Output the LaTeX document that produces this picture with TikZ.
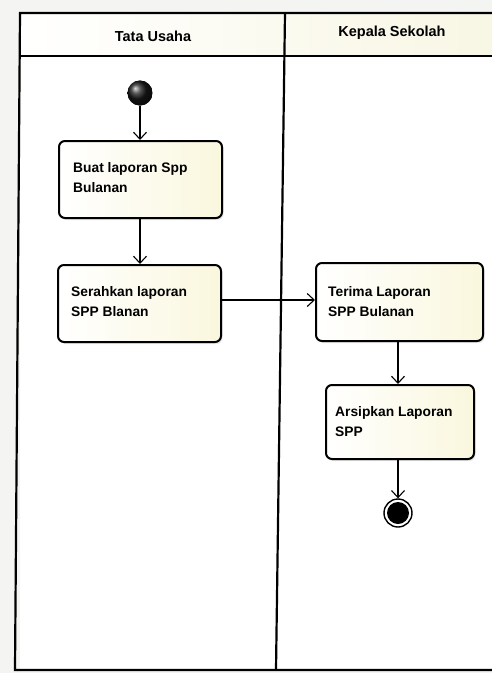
\documentclass[tikz,border=0pt]{standalone}
\usepackage{fontspec}
\setmainfont{Liberation Sans}
\usetikzlibrary{arrows.meta,shadows,positioning}
\definecolor{paper}{RGB}{244,244,242}
\definecolor{actfill}{RGB}{250,247,222}
\definecolor{headfill}{RGB}{248,246,228}
\begin{document}
\begin{tikzpicture}[x=1pt,y=-1pt,
  lane/.style={line width=2.2pt,draw=black},
  activity/.style={draw=black,line width=2pt,rounded corners=6pt,
    left color=white,right color=actfill,
    drop shadow={opacity=0.18,shadow xshift=1.5pt,shadow yshift=-2pt},
    inner sep=0pt,anchor=north west},
  acttext/.style={anchor=north west,align=left,inner sep=0pt,
    font=\bfseries\fontsize{13.8}{20}\selectfont},
  flow/.style={draw=black,line width=1.1pt,-{Straight Barb[length=7pt,width=13pt,line width=1.1pt]}},
  lanehead/.style={font=\bfseries\fontsize{14.5}{16}\selectfont}]
  % page
  \useasboundingbox (0,0) rectangle (492,673);
  \fill[paper] (0,0) rectangle (492,673);
  % swimlane frame
  \fill[left color=white,right color=headfill] (20,13) rectangle (492,56);
  \fill[white] (20,56) rectangle (492,670);
  \draw[lane] (492,13) -- (20,13) -- (15,670) -- (492,670);
  \draw[lane] (20,56) -- (492,56);
  \draw[lane] (285,13) -- (276,670);
  \node[lanehead] (h1) at (153,36) {Tata Usaha};
  \node[lanehead] (h2) at (392,33) {Kepala Sekolah};
  % start
  \node[circle,fill=black,inner sep=0pt,minimum size=25pt,
        shading=ball,ball color=black!90] (start) at (140,93) {};
  % activities
  \node[activity,minimum width=163pt,minimum height=77pt] (a1) at (58,140) {};
  \node[acttext] (t1) at (73,162) {Buat laporan Spp\\Bulanan};
  \node[activity,minimum width=163pt,minimum height=77pt] (a2) at (57,264) {};
  \node[acttext] (t2) at (71,286) {Serahkan laporan\\SPP Blanan};
  \node[activity,minimum width=167pt,minimum height=78pt] (a3) at (315,262) {};
  \node[acttext] (t3) at (328,286) {Terima Laporan\\SPP Bulanan};
  \node[activity,minimum width=148pt,minimum height=74pt] (a4) at (325,384) {};
  \node[acttext] (t4) at (335,406) {Arsipkan Laporan\\SPP};
  % end
  \node[circle,draw=black,line width=1.4pt,fill=white,inner sep=0pt,minimum size=28pt] (stop) at (398,513) {};
  \fill[black] (stop.center) circle (11pt);
  % flows
  \draw[flow] (start.south) -- (start.south |- a1.north);
  \draw[flow] (a1.south -| start) -- (a2.north -| start);
  \draw[flow] (a2.east |- 0,300) -- (a3.west |- 0,300);
  \draw[flow] (a3.south -| stop) -- (a4.north -| stop);
  \draw[flow] (a4.south -| stop) -- (stop.north);
\end{tikzpicture}
\end{document}
